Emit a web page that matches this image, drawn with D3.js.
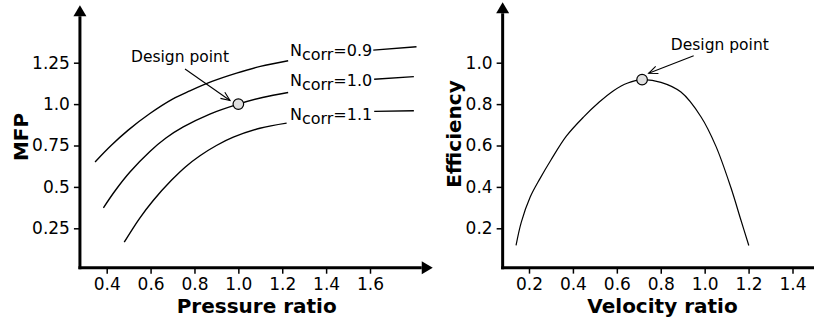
<!DOCTYPE html>
<html>
<head>
<meta charset="utf-8">
<script src="https://cdn.jsdelivr.net/npm/d3@7/dist/d3.min.js"></script>
<style>
body{margin:0;background:#fff;}
text{font-family:"DejaVu Sans",sans-serif;fill:#000;}
</style>
</head>
<body>
<div class="chart"></div>
<script>
//左图: MFP vs pressure ratio
var xTicksL=[0.4,0.6,0.8,1.0,1.2,1.4,1.6];
var xTickLabelsL=['0.4','0.6','0.8','1.0','1.2','1.4','1.6'];
var yTicksL=[0.25,0.5,0.75,1.0,1.25];
var yTickLabelsL=['0.25','0.5','0.75','1.0','1.25'];
var speeds=['0.9','1.0','1.1'];

var pr09=[0.347,0.42,0.498,0.597,0.70,0.779,0.88,0.992,1.10,1.227];
var mfp09=[0.651,0.75,0.843,0.943,1.03,1.080,1.137,1.187,1.228,1.262];
var pr09Tail=[1.615,1.812];
var mfp09Tail=[1.326,1.346];

var pr10=[0.385,0.44,0.506,0.597,0.67,0.749,0.87,1.0,1.11,1.227];
var mfp10=[0.374,0.48,0.590,0.714,0.795,0.862,0.940,1.0,1.04,1.07];
var pr10Tail=[1.619,1.80];
var mfp10Tail=[1.15,1.166];

var pr11=[0.480,0.55,0.612,0.696,0.76,0.825,0.90,0.977,1.098,1.22];
var mfp11=[0.166,0.31,0.418,0.541,0.622,0.688,0.750,0.800,0.854,0.885];
var pr11Tail=[1.619,1.80];
var mfp11Tail=[0.956,0.96];

var designPr=1.0, designMfp=1.0;

//右图: efficiency vs velocity ratio
var xTicksR=[0.2,0.4,0.6,0.8,1.0,1.2,1.4];
var xTickLabelsR=['0.2','0.4','0.6','0.8','1.0','1.2','1.4'];
var yTicksR=[0.2,0.4,0.6,0.8,1.0];
var yTickLabelsR=['0.2','0.4','0.6','0.8','1.0'];
var velRatio=[0.141,0.165,0.205,0.25,0.30,0.37,0.448,0.52,0.585,0.65,0.715,0.801,0.892,0.983,1.051,1.119,1.165,1.201];
var efficiency=[0.117,0.23,0.35,0.44,0.53,0.645,0.737,0.810,0.865,0.902,0.918,0.905,0.858,0.739,0.597,0.398,0.24,0.117];
var designVel=0.715, designEff=0.918;

var width=814, height=322;
var svg=d3.select('div.chart')
	.append('svg')
	.attr('width',width)
	.attr('height',height);

var defs=svg.append('defs');
defs.append('marker')
	.attr('id','head')
	.attr('markerUnits','userSpaceOnUse')
	.attr('markerWidth',12)
	.attr('markerHeight',12)
	.attr('refX',10)
	.attr('refY',6)
	.attr('orient','auto')
	.append('path')
	.attr('d','M1,2.2 L10,6 L1,9.8')
	.attr('fill','none')
	.attr('stroke','#000')
	.attr('stroke-width',1.1);

function arrowAxis(g,x1,y1,x2,y2){
	var len=Math.hypot(x2-x1,y2-y1);
	var ux=(x2-x1)/len, uy=(y2-y1)/len;
	var hl=11, hw=6.5;
	var bx=x2-ux*hl, by=y2-uy*hl;
	g.append('line')
		.attr('x1',x1).attr('y1',y1)
		.attr('x2',bx).attr('y2',by)
		.attr('stroke','#000')
		.attr('stroke-width',3);
	g.append('path')
		.attr('d','M'+x2+','+y2+' L'+(bx-uy*hw)+','+(by+ux*hw)+' L'+(bx+uy*hw)+','+(by-ux*hw)+' Z')
		.attr('fill','#000');
}

function drawAxes(xs,ys,xt,xtl,yt,ytl,xLo,xHi,yLo,yHi){
	var g=svg.append('g');
	var gx=g.append('g')
		.attr('transform','translate(0,'+ys(yLo)+')')
		.call(d3.axisBottom(xs).tickValues(xt).tickFormat(function(d,i){return xtl[i];}).tickSize(6).tickPadding(4));
	var gy=g.append('g')
		.attr('transform','translate('+xs(xLo)+',0)')
		.call(d3.axisLeft(ys).tickValues(yt).tickFormat(function(d,i){return ytl[i];}).tickSize(6).tickPadding(4));
	[gx,gy].forEach(function(a){
		a.select('.domain').remove();
		a.attr('font-family',null).attr('font-size',null);
		a.selectAll('.tick line').attr('stroke','#000').attr('stroke-width',1.5);
		a.selectAll('.tick text').attr('font-size','17px').attr('fill','#000');
	});
	arrowAxis(g,xs(xLo)-1.5,ys(yLo),xs(xHi),ys(yLo));
	arrowAxis(g,xs(xLo),ys(yLo)+1.5,xs(xLo),ys(yHi));
}

var lineGen=function(xs,ys){
	return d3.line()
		.x(function(d){return xs(d[0]);})
		.y(function(d){return ys(d[1]);})
		.curve(d3.curveCatmullRom.alpha(0.5));
};

function zip(a,b){return a.map(function(v,i){return [v,b[i]];});}

function designPoint(xs,ys,px,py,tx,ty,ax,ay,ex,ey){
	svg.append('text')
		.attr('x',xs(tx)).attr('y',ys(ty))
		.attr('text-anchor','middle')
		.attr('font-size','15.5px')
		.text('Design point');
	svg.append('line')
		.attr('x1',xs(ax)).attr('y1',ys(ay))
		.attr('x2',xs(ex)).attr('y2',ys(ey))
		.attr('stroke','#000')
		.attr('stroke-width',1.1)
		.attr('marker-end','url(#head)');
	svg.append('circle')
		.attr('cx',xs(px)).attr('cy',ys(py))
		.attr('r',5.3)
		.attr('fill','#e0e0e0')
		.attr('stroke','#000')
		.attr('stroke-width',1.2);
}

// ---- left panel
var xL=d3.scaleLinear().domain([0.4,1.6]).range([106.7,370]);
var yL=d3.scaleLinear().domain([0.25,1.25]).range([228.3,62.7]);
drawAxes(xL,yL,xTicksL,xTickLabelsL,yTicksL,yTickLabelsL,0.278,1.886,0.012,1.597);

var curvesL=[
	{main:zip(pr09,mfp09),tail:zip(pr09Tail,mfp09Tail),label:speeds[0],ly:1.292},
	{main:zip(pr10,mfp10),tail:zip(pr10Tail,mfp10Tail),label:speeds[1],ly:1.112},
	{main:zip(pr11,mfp11),tail:zip(pr11Tail,mfp11Tail),label:speeds[2],ly:0.907}
];
curvesL.forEach(function(c){
	[c.main,c.tail].forEach(function(seg){
		svg.append('path')
			.attr('d',lineGen(xL,yL)(seg))
			.attr('fill','none')
			.attr('stroke','#000')
			.attr('stroke-width',1.4);
	});
	var t=svg.append('text')
		.attr('x',xL(1.235)).attr('y',yL(c.ly))
		.attr('font-size','16px');
	t.append('tspan').text('N');
	t.append('tspan').attr('dy',4).text('corr');
	t.append('tspan').attr('dy',-4).text('='+c.label);
});
designPoint(xL,yL,designPr,designMfp,0.734,1.252,0.757,1.212,0.962,1.022);

svg.append('text')
	.attr('x',256.7).attr('y',312.5)
	.attr('text-anchor','middle')
	.attr('font-size','20px')
	.attr('font-weight','bold')
	.text('Pressure ratio');
svg.append('text')
	.attr('transform','translate(28,137) rotate(-90)')
	.attr('text-anchor','middle')
	.attr('font-size','20px')
	.attr('font-weight','bold')
	.text('MFP');

// ---- right panel
var xR=d3.scaleLinear().domain([0.2,1.4]).range([529,792.5]);
var yR=d3.scaleLinear().domain([0.2,1.0]).range([228.3,62.7]);
drawAxes(xR,yR,xTicksR,xTickLabelsR,yTicksR,yTickLabelsR,0.08,1.55,0.01,1.292);

svg.append('path')
	.attr('d',lineGen(xR,yR)(zip(velRatio,efficiency)))
	.attr('fill','none')
	.attr('stroke','#000')
	.attr('stroke-width',1.2);
designPoint(xR,yR,designVel,designEff,1.069,1.0625,0.950,1.034,0.745,0.949);

svg.append('text')
	.attr('x',662.5).attr('y',313)
	.attr('text-anchor','middle')
	.attr('font-size','20px')
	.attr('font-weight','bold')
	.text('Velocity ratio');
svg.append('text')
	.attr('transform','translate(461,134) rotate(-90)')
	.attr('text-anchor','middle')
	.attr('font-size','20px')
	.attr('font-weight','bold')
	.text('Efficiency');
</script>
</body>
</html>
